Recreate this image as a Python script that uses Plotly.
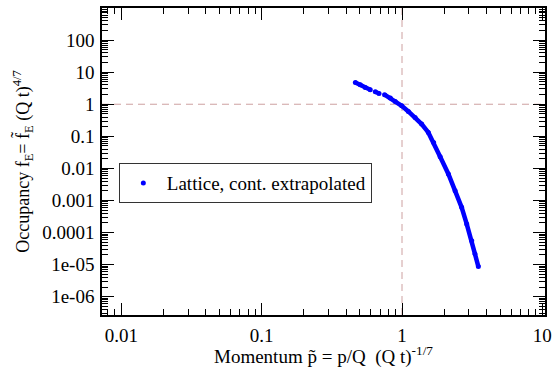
import plotly.graph_objects as go

# Data (None marks visible gaps in the curve)
momentum = [0.465, 0.504, 0.547, 0.594, None, 0.645, 0.686, None, 0.751, 0.826, 0.895,
            0.995, 1.11, 1.24, 1.38, 1.54, 1.68, 1.87, 2.14, 2.39, 2.66, 2.89, 3.14, 3.31, 3.50]
occupancy = [4.78, 4.05, 3.34, 2.83, None, 2.45, 2.17, None, 1.98, 1.56, 1.22,
             0.898, 0.597, 0.388, 0.242, 0.132, 0.0646, 0.0231, 0.0067, 0.00202,
             6.1e-4, 1.86e-4, 5.6e-5, 2.15e-5, 8.7e-6]

x_tickvals = [0.01, 0.1, 1, 10]
x_ticktext = ["0.01", "0.1", "1", "10"]
y_tickvals = [1e-6, 1e-5, 1e-4, 1e-3, 1e-2, 0.1, 1, 10, 100]
y_ticktext = ["1e-06", "1e-05", "0.0001", "0.001", "0.01", "0.1", "1", "10", "100"]

series_name = "Lattice, cont. extrapolated"
ref_x = 1
ref_y = 1

FONT = "'Liberation Serif', 'Times New Roman', 'DejaVu Serif', serif"
BLUE = "#0000ff"
NB = "\u00a0"

fig = go.Figure()
fig.add_trace(go.Scatter(x=momentum, y=occupancy, mode="lines",
                         line=dict(color=BLUE, width=4.5),
                         showlegend=False, hoverinfo="skip", connectgaps=False))
fig.add_trace(go.Scatter(x=momentum, y=occupancy, mode="markers",
                         marker=dict(color=BLUE, size=5),
                         name=series_name))

dash_col = "rgb(205,160,160)"
fig.add_shape(type="line", xref="x", yref="paper", x0=ref_x, x1=ref_x, y0=0, y1=1,
              line=dict(color=dash_col, width=1, dash="7px,5px"), layer="below")
fig.add_shape(type="line", xref="paper", yref="y", x0=0, x1=1, y0=ref_y, y1=ref_y,
              line=dict(color=dash_col, width=1, dash="7px,5px"), layer="below")

axis_common = dict(
    type="log", showgrid=False, zeroline=False,
    showline=True, linecolor="black", linewidth=1.5, mirror="allticks",
    ticks="inside", ticklen=12, tickwidth=1, tickcolor="black",
    tickmode="array",
    tickfont=dict(family=FONT, size=19, color="black"),
    minor=dict(ticks="inside", ticklen=6, tickwidth=1, tickcolor="black",
               dtick="D1", showgrid=False),
)

x_title = f"Momentum p\u0303 = p/Q{NB}{NB}(Q{NB}t)<sup>-1/7</sup>"
y_title = "Occupancy f<sub>E</sub>= f\u0303<sub>E</sub> (Q t)<sup>4/7</sup>"

fig.update_xaxes(**axis_common, range=[-2.138, 1.019],
                 tickvals=x_tickvals, ticktext=x_ticktext, ticklabelstandoff=2,
                 title=dict(text=x_title,
                            font=dict(family=FONT, size=19, color="black"), standoff=4))
fig.update_yaxes(**axis_common, range=[-6.57, 3.0],
                 tickvals=y_tickvals, ticktext=y_ticktext, ticklabelstandoff=2,
                 title=dict(text=y_title,
                            font=dict(family=FONT, size=18, color="black"), standoff=8))

fig.update_layout(
    width=552, height=368,
    margin=dict(l=102, r=7, t=8, b=53, autoexpand=False),
    paper_bgcolor="white", plot_bgcolor="white",
    font=dict(family=FONT, size=19, color="black"),
    legend=dict(x=0.038, y=0.495, xanchor="left", yanchor="top",
                bgcolor="white", bordercolor="#333", borderwidth=1,
                font=dict(family=FONT, size=19, color="black"), itemwidth=37),
)

fig.write_html("out.html", config={"displayModeBar": False},
               post_script="document.body.style.margin='0';document.body.style.padding='0';")
